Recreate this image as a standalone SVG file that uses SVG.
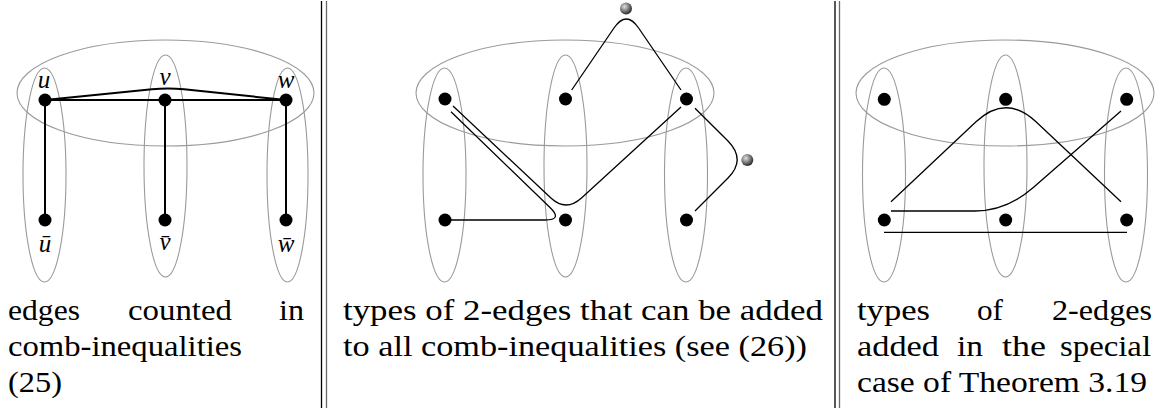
<svg xmlns="http://www.w3.org/2000/svg" width="1156" height="415" viewBox="0 0 1156 415">
<defs>
<radialGradient id="ball" cx="0.38" cy="0.35" r="0.7">
<stop offset="0" stop-color="#e0e0e0"/>
<stop offset="0.45" stop-color="#8a8a8a"/>
<stop offset="1" stop-color="#1e1e1e"/>
</radialGradient>
</defs>
<style>
.set{fill:none;stroke:#9a9a9a;stroke-width:1.1}
.node{fill:#000}
.e1{fill:none;stroke:#000;stroke-width:2}
.e2{fill:none;stroke:#000;stroke-width:1.3}
.rule{stroke:#000;stroke-width:1.3}
.rule2{stroke:#6a6a6a;stroke-width:1.3}
.txt{font-family:'Liberation Serif',serif;font-size:30px;fill:#000}
.lbl{font-family:'Liberation Serif',serif;font-style:italic;font-size:25px;text-anchor:middle;fill:#000}
</style>
<rect width="1156" height="415" fill="#fff"/>
<g id="rules">
<line class="rule" x1="321.5" y1="1" x2="321.5" y2="408"/>
<line class="rule2" x1="326.5" y1="1" x2="326.5" y2="408"/>
<line class="rule" x1="835" y1="1" x2="835" y2="408"/>
<line class="rule2" x1="839.5" y1="1" x2="839.5" y2="408"/>
</g>
<g id="p1-sets">
<ellipse class="set" cx="165.5" cy="93" rx="148.5" ry="53"/>
<ellipse class="set" cx="44.5" cy="175" rx="21.5" ry="107"/>
<ellipse class="set" cx="165.5" cy="166" rx="21.5" ry="111"/>
<ellipse class="set" cx="287.5" cy="175" rx="20.5" ry="107"/>
</g>
<g id="p1-connectors">
<path class="e1" d="M45,100 L165,100"/>
<path class="e1" d="M165,100 L286,100"/>
<path class="e1" d="M45,100 L152,89.3 Q168,87.6 184,89.3 L286,100"/>
<path class="e1" d="M45,100 L45,220"/>
<path class="e1" d="M165,100 L165,220"/>
<path class="e1" d="M286,100 L286,220"/>
</g>
<g id="p1-u"><circle class="node" cx="45" cy="100" r="6.5"/><text class="lbl" x="44" y="88">u</text></g>
<g id="p1-v"><circle class="node" cx="165" cy="100" r="6.5"/><text class="lbl" x="165" y="85">v</text></g>
<g id="p1-w"><circle class="node" cx="286" cy="100" r="6.5"/><text class="lbl" x="286" y="88">w</text></g>
<g id="p1-ubar"><circle class="node" cx="45" cy="220" r="6.5"/><text class="lbl" x="45" y="252">ū</text></g>
<g id="p1-vbar"><circle class="node" cx="165" cy="220" r="6.5"/><text class="lbl" x="165" y="250">v̄</text></g>
<g id="p1-wbar"><circle class="node" cx="286" cy="220" r="6.5"/><text class="lbl" x="286" y="252">w̄</text></g>
<g id="p1-caption" class="txt">
<text x="8" y="320" textLength="72" lengthAdjust="spacingAndGlyphs">edges</text>
<text x="128" y="320" textLength="104" lengthAdjust="spacingAndGlyphs">counted</text>
<text x="279" y="320" textLength="25" lengthAdjust="spacingAndGlyphs">in</text>
<text x="8" y="356" textLength="234" lengthAdjust="spacingAndGlyphs">comb-inequalities</text>
<text x="8" y="392" textLength="54" lengthAdjust="spacingAndGlyphs">(25)</text>
</g>
<g id="p2-sets">
<ellipse class="set" cx="565" cy="93" rx="149" ry="53"/>
<ellipse class="set" cx="444.5" cy="175" rx="21.5" ry="107"/>
<ellipse class="set" cx="565.5" cy="166" rx="21.5" ry="111"/>
<ellipse class="set" cx="686" cy="175" rx="21.5" ry="107"/>
</g>
<g id="p2-connectors">
<path class="e2" d="M571.7,90 L614,28 Q626.3,10 638.6,28 L681,90"/>
<path class="e2" d="M695,108.3 L728,141 Q746.3,159.7 728,178 L695,211"/>
<path class="e2" d="M453,106 L550.9,198 Q566,212 581.5,198 L681,107"/>
<path class="e2" d="M451,111.7 L550,207.5 Q563,220 545,220 L445,220"/>
</g>
<g id="p2-a"><circle class="node" cx="445" cy="99" r="6.5"/></g>
<g id="p2-b"><circle class="node" cx="565.5" cy="99" r="6.5"/></g>
<g id="p2-c"><circle class="node" cx="686.5" cy="99" r="6.5"/></g>
<g id="p2-abar"><circle class="node" cx="445" cy="220" r="6.5"/></g>
<g id="p2-bbar"><circle class="node" cx="565.5" cy="220" r="6.5"/></g>
<g id="p2-cbar"><circle class="node" cx="686.5" cy="220" r="6.5"/></g>
<g id="p2-ball1"><circle cx="626" cy="8.5" r="6" fill="url(#ball)"/></g>
<g id="p2-ball2"><circle cx="747.3" cy="160" r="6" fill="url(#ball)"/></g>
<g id="p2-caption" class="txt">
<text x="343" y="320" textLength="480" lengthAdjust="spacingAndGlyphs">types of 2-edges that can be added</text>
<text x="343" y="356" textLength="464" lengthAdjust="spacingAndGlyphs">to all comb-inequalities (see (26))</text>
</g>
<g id="p3-sets">
<ellipse class="set" cx="1005" cy="93" rx="149" ry="53"/>
<ellipse class="set" cx="884" cy="175" rx="21.5" ry="107"/>
<ellipse class="set" cx="1005.5" cy="166" rx="21.5" ry="111"/>
<ellipse class="set" cx="1126" cy="175" rx="21.5" ry="107"/>
</g>
<g id="p3-connectors">
<path class="e2" d="M891,201.7 L976,121.8 Q1006,93.6 1036,121.8 L1121,201.7"/>
<path class="e2" d="M891,211 L975,211 Q1006.3,211 1033,187.8 L1121,111"/>
<path class="e2" d="M884,232.3 L1127,232.3"/>
</g>
<g id="p3-a"><circle class="node" cx="884.3" cy="99.3" r="6.5"/></g>
<g id="p3-b"><circle class="node" cx="1005.7" cy="99.3" r="6.5"/></g>
<g id="p3-c"><circle class="node" cx="1126.7" cy="99.3" r="6.5"/></g>
<g id="p3-abar"><circle class="node" cx="884.3" cy="220" r="6.5"/></g>
<g id="p3-bbar"><circle class="node" cx="1005.7" cy="220" r="6.5"/></g>
<g id="p3-cbar"><circle class="node" cx="1126.7" cy="220" r="6.5"/></g>
<g id="p3-caption" class="txt">
<text x="857" y="320" textLength="73" lengthAdjust="spacingAndGlyphs">types</text>
<text x="977" y="320" textLength="26" lengthAdjust="spacingAndGlyphs">of</text>
<text x="1052" y="320" textLength="100" lengthAdjust="spacingAndGlyphs">2-edges</text>
<text x="857" y="356" textLength="82" lengthAdjust="spacingAndGlyphs">added</text>
<text x="957" y="356" textLength="26" lengthAdjust="spacingAndGlyphs">in</text>
<text x="1002" y="356" textLength="44" lengthAdjust="spacingAndGlyphs">the</text>
<text x="1060" y="356" textLength="91" lengthAdjust="spacingAndGlyphs">special</text>
<text x="857" y="392" textLength="290" lengthAdjust="spacingAndGlyphs">case of Theorem 3.19</text>
</g>
</svg>
